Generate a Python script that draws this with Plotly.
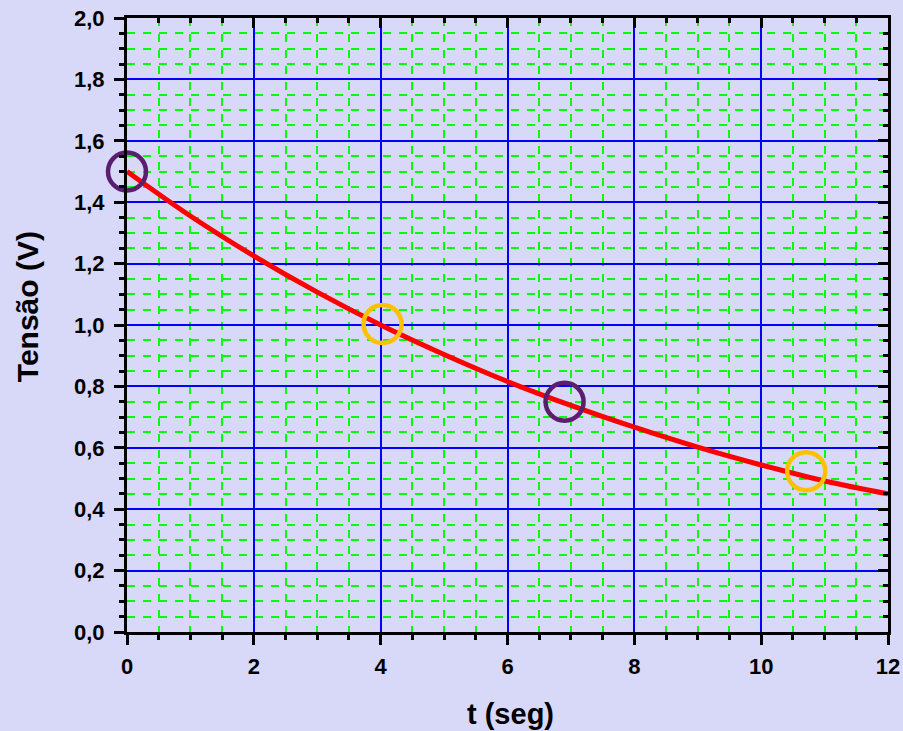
import plotly.graph_objects as go

# Fitted curve (t in s, V in volts)
curve_t = [0, 1, 2, 3, 4, 5, 6, 7, 8, 9, 10, 11, 12]
curve_v = [1.50, 1.355, 1.225, 1.107, 1.000, 0.904, 0.816, 0.738, 0.667, 0.602, 0.544, 0.492, 0.450]

# Highlighted points
purple_t = [0.0, 6.9]
purple_v = [1.50, 0.75]
orange_t = [4.03, 10.71]
orange_v = [1.003, 0.524]

x_ticks = [0, 2, 4, 6, 8, 10, 12]
y_ticks = [0.0, 0.2, 0.4, 0.6, 0.8, 1.0, 1.2, 1.4, 1.6, 1.8, 2.0]

x_title = "t (seg)"
y_title = "Tensão (V)"

BG = "#D8D8F8"
FONT = "Liberation Sans, Arial, sans-serif"

fig = go.Figure()
fig.add_trace(go.Scatter(x=curve_t, y=curve_v, mode="lines",
                         line=dict(color="#FF0000", width=5, shape="spline"),
                         showlegend=False, hoverinfo="skip"))
fig.add_trace(go.Scatter(x=purple_t, y=purple_v, mode="markers",
                         marker=dict(symbol="circle-open", size=38, color="#5A1E6E",
                                     line=dict(width=4.5, color="#5A1E6E")),
                         cliponaxis=False, showlegend=False))
fig.add_trace(go.Scatter(x=orange_t, y=orange_v, mode="markers",
                         marker=dict(symbol="circle-open", size=38, color="#FFC000",
                                     line=dict(width=4.5, color="#FFC000")),
                         cliponaxis=False, showlegend=False))
# invisible trace for mirrored axes
fig.add_trace(go.Scatter(x=[0], y=[0], xaxis="x2", yaxis="y2", mode="markers",
                         marker=dict(opacity=0), showlegend=False, hoverinfo="skip"))

tickfont = dict(family=FONT, size=22, color="black")

fig.update_layout(
    width=903, height=731,
    paper_bgcolor=BG, plot_bgcolor=BG,
    margin=dict(l=127, r=15, t=18, b=99, autoexpand=False),
    separators=",.",
    font=dict(family=FONT, color="black"),
    xaxis=dict(range=[0, 12], tickvals=x_ticks, ticktext=[f"<b>{v}</b>" for v in x_ticks],
               tickfont=tickfont, ticks="outside", ticklen=10, tickwidth=3, tickcolor="black",
               showline=True, linecolor="black", linewidth=3, automargin=False,
               ticklabelstandoff=3,
               showgrid=True, gridcolor="#0000FF", gridwidth=1.8, zeroline=False,
               minor=dict(dtick=0.5, ticks="outside", ticklen=5, tickwidth=3, tickcolor="black",
                          showgrid=True, gridcolor="#00FF00", gridwidth=1.8, griddash="8px,8px")),
    yaxis=dict(range=[0, 2.0], tickvals=y_ticks,
               ticktext=[f"<b>{v:.1f}</b>".replace(".", ",") for v in y_ticks],
               tickfont=tickfont, ticks="outside", ticklen=10, tickwidth=3, tickcolor="black",
               showline=True, linecolor="black", linewidth=3, automargin=False,
               ticklabelstandoff=5,
               showgrid=True, gridcolor="#0000FF", gridwidth=1.8, zeroline=False,
               minor=dict(dtick=0.05, ticks="outside", ticklen=5, tickwidth=3, tickcolor="black",
                          showgrid=True, gridcolor="#00FF00", gridwidth=1.8, griddash="8px,8px")),
    xaxis2=dict(range=[0, 12], overlaying="x", side="top", tickvals=x_ticks, showticklabels=False,
                ticks="inside", ticklen=10, tickwidth=3, tickcolor="black", automargin=False,
                showline=True, linecolor="black", linewidth=3, showgrid=False, zeroline=False,
                minor=dict(dtick=0.5, ticks="inside", ticklen=5, tickwidth=3, tickcolor="black",
                           showgrid=False)),
    yaxis2=dict(range=[0, 2.0], overlaying="y", side="right", tickvals=y_ticks, showticklabels=False,
                ticks="inside", ticklen=10, tickwidth=3, tickcolor="black", automargin=False,
                showline=True, linecolor="black", linewidth=3, showgrid=False, zeroline=False,
                minor=dict(dtick=0.05, ticks="inside", ticklen=5, tickwidth=3, tickcolor="black",
                           showgrid=False)),
    annotations=[
        dict(text=f"<b>{x_title}</b>", xref="paper", yref="paper", x=0.5033, y=-0.1335,
             xanchor="center", yanchor="middle", showarrow=False,
             font=dict(family=FONT, size=29, color="black")),
        dict(text=f"<b>{y_title}</b>", xref="paper", yref="paper", x=-0.1314, y=0.529,
             xanchor="center", yanchor="middle", showarrow=False, textangle=-90,
             font=dict(family=FONT, size=30, color="black")),
    ],
)

fig.write_html("out.html", config={"displayModeBar": False},
               post_script="document.body.style.margin='0';document.body.style.background='" + BG + "';")
